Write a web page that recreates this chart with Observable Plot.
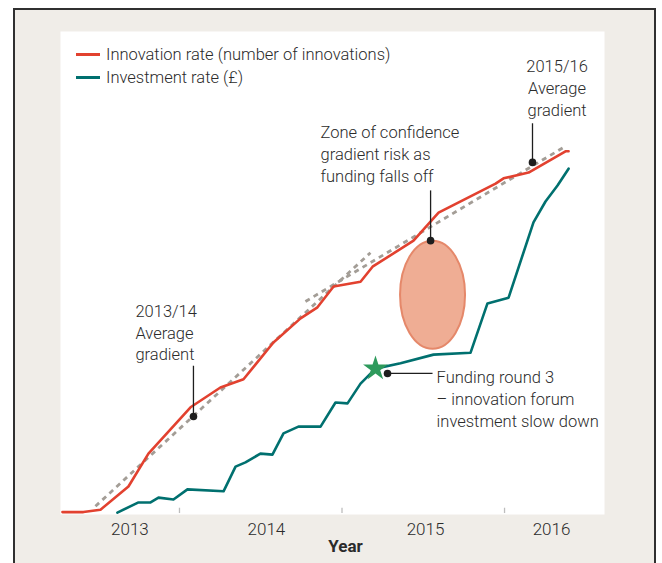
<!DOCTYPE html>
<html><head><meta charset="utf-8">
<script src="https://cdn.jsdelivr.net/npm/d3@7"></script>
<script src="https://cdn.jsdelivr.net/npm/@observablehq/plot@0.6"></script>
<style>
body{margin:0;background:#fff;}
#wrap{position:relative;width:662px;height:563px;overflow:hidden;font-family:Roboto,"Liberation Sans",sans-serif;}
#box{position:absolute;left:13px;top:8px;width:643px;height:620px;box-sizing:border-box;border:2.5px solid #303030;border-bottom:none;background:#f0ede8;}
#chart{position:absolute;left:0;top:0;}
#legend{position:absolute;left:76px;top:43px;font-size:16.5px;color:#2b2b2b;font-weight:300;line-height:23px;}
#legend div{white-space:nowrap;}
.sw{display:inline-block;width:24px;height:3px;vertical-align:middle;margin-right:6px;position:relative;top:-1px;}
</style></head><body>
<div id="wrap"><div id="box"></div><div id="chart"></div><div id="legend"></div></div>
<script>
// ---- data (x in decimal years, y in index units 0-100) ----
const innovationX = [2013.28,2013.409,2013.514,2013.686,2013.809,2014.068,2014.252,2014.394,2014.578,2014.745,2014.849,2014.948,2015.114,2015.188,2015.44,2015.594,2015.945,2015.994,2016.148,2016.375,2016.394];
const innovationY = [0.5,0.5,1.0,5.8,12.6,22.2,26.3,28.0,35.6,40.6,42.9,47.2,48.2,51.3,56.7,62.5,68.5,69.6,70.8,75.2,75.2];
const investmentX = [2013.618,2013.748,2013.822,2013.871,2013.963,2014.049,2014.271,2014.345,2014.406,2014.498,2014.572,2014.64,2014.732,2014.868,2014.96,2015.034,2015.114,2015.206,2015.36,2015.563,2015.791,2015.895,2016.025,2016.178,2016.252,2016.326,2016.394];
const investmentY = [0.4,2.5,2.5,3.5,3.1,5.2,4.8,9.9,10.8,12.6,12.4,16.8,18.2,18.2,23.2,23.0,27.1,30.2,31.3,33.1,33.5,43.7,44.9,60.5,64.8,68.1,71.6];
const gradientName = ["2013/14","2013/14","2015/16","2015/16"];
const gradientX = [2013.483,2015.175,2014.775,2016.363];
const gradientY = [1.7,54.2,44.1,76.0];

const seriesNames = ["Innovation rate (number of innovations)","Investment rate (£)"];
const seriesColors = ["#e2412f","#00706f"];

const yearTicks = [2014,2015,2016];
const yearLabels = ["2013","2014","2015","2016"];
const yearLabelX = [2013.695,2014.535,2015.514,2016.289];
const axisTitle = "Year";
const axisTitleX = 2015.022;

// annotations
const noteText = ["2013/14\nAverage\ngradient","Zone of confidence\ngradient risk as\nfunding falls off","Funding round 3\n– innovation forum\ninvestment slow down"];
const noteX = [2013.729,2014.868,2015.582];
const noteY = [31.9,68.9,18.2];
const note2Text = ["2015/16\nAverage\ngradient"];
const note2X = [2016.323];
const note2Y = [82.6];
const dotX = [2014.086,2015.545,2016.172,2015.28];
const dotY = [20.3,56.7,72.9,29.2];
const leaderX1 = [2014.086,2015.545,2016.172,2015.28];
const leaderY1 = [30.8,67.1,81.0,29.2];
const leaderX2 = [2014.086,2015.545,2016.172,2015.557];
const leaderY2 = [20.3,56.7,72.9,29.2];
const zoneX = [2015.557];
const zoneY = [45.5];
const starX = [2015.206];
const starY = [30.2];

// ---- build ----
const rows = (xs, ys) => xs.map((x, i) => ({x, y: ys[i]}));
const innovation = rows(innovationX, innovationY);
const investment = rows(investmentX, investmentY);
const gradients = gradientX.map((x, i) => ({x, y: gradientY[i], name: gradientName[i]}));
const leaders = leaderX1.map((x, i) => ({x1: x, y1: leaderY1[i], x2: leaderX2[i], y2: leaderY2[i]}));

const ellipse = {
  draw(ctx) {
    const rx = 32.5, ry = 54, k = 0.5523;
    ctx.moveTo(rx, 0);
    ctx.bezierCurveTo(rx, ry * k, rx * k, ry, 0, ry);
    ctx.bezierCurveTo(-rx * k, ry, -rx, ry * k, -rx, 0);
    ctx.bezierCurveTo(-rx, -ry * k, -rx * k, -ry, 0, -ry);
    ctx.bezierCurveTo(rx * k, -ry, rx, -ry * k, rx, 0);
    ctx.closePath();
  }
};

const ink = "#2b2b2b";
const font = "Roboto, 'Liberation Sans', sans-serif";

const chart = Plot.plot({
  width: 662, height: 563,
  marginLeft: 60, marginRight: 58, marginTop: 31, marginBottom: 49,
  style: {background: "transparent", fontFamily: font, overflow: "visible"},
  x: {domain: [2013.268, 2016.615], axis: null},
  y: {domain: [0, 100], axis: null},
  marks: [
    Plot.frame({fill: "white", stroke: null}),
    Plot.ruleX(yearTicks, {y1: 0.2, y2: 1.3, stroke: "#bdbdbd", strokeWidth: 1.3}),
    Plot.text(yearLabels, {x: yearLabelX, text: d => d, frameAnchor: "bottom", lineAnchor: "top", dy: 8, fontSize: 17, fill: ink, fontWeight: 300}),
    Plot.text([axisTitle], {x: [axisTitleX], text: d => d, frameAnchor: "bottom", lineAnchor: "top", dy: 25, fontSize: 17, fill: ink, fontWeight: "bold"}),
    Plot.dot(zoneX.map((x, i) => ({x, y: zoneY[i]})), {x: "x", y: "y", symbol: ellipse, fill: "#efad94", stroke: "#e5886a", strokeWidth: 2}),
    Plot.line(gradients, {x: "x", y: "y", z: "name", stroke: "#a39d96", strokeWidth: 2.8, strokeDasharray: "5,4.5", strokeLinecap: "butt"}),
    Plot.line(innovation, {x: "x", y: "y", stroke: seriesColors[0], strokeWidth: 2.6}),
    Plot.line(investment, {x: "x", y: "y", stroke: seriesColors[1], strokeWidth: 2.6}),
    Plot.link(leaders, {x1: "x1", y1: "y1", x2: "x2", y2: "y2", stroke: "#1e1e1e", strokeWidth: 1.3}),
    Plot.dot(starX.map((x, i) => ({x, y: starY[i]})), {x: "x", y: "y", symbol: "star", r: 7.8, fill: "#2e9a5c"}),
    Plot.dot(dotX.map((x, i) => ({x, y: dotY[i]})), {x: "x", y: "y", r: 3.8, fill: "#1e1e1e"}),
    Plot.text(noteText, {x: noteX, y: noteY, text: d => d, textAnchor: "start", lineAnchor: "bottom", lineHeight: 1.32, fontSize: 16.5, fill: ink, fontWeight: 300}),
    Plot.text(note2Text, {x: note2X, y: note2Y, text: d => d, textAnchor: "middle", lineAnchor: "bottom", lineHeight: 1.32, fontSize: 16.5, fill: ink, fontWeight: 300})
  ]
});
document.getElementById("chart").appendChild(chart);

const legend = document.getElementById("legend");
seriesNames.forEach((name, i) => {
  const row = document.createElement("div");
  const sw = document.createElement("span");
  sw.className = "sw";
  sw.style.background = seriesColors[i];
  row.appendChild(sw);
  row.appendChild(document.createTextNode(name));
  legend.appendChild(row);
});
</script>
</body></html>
